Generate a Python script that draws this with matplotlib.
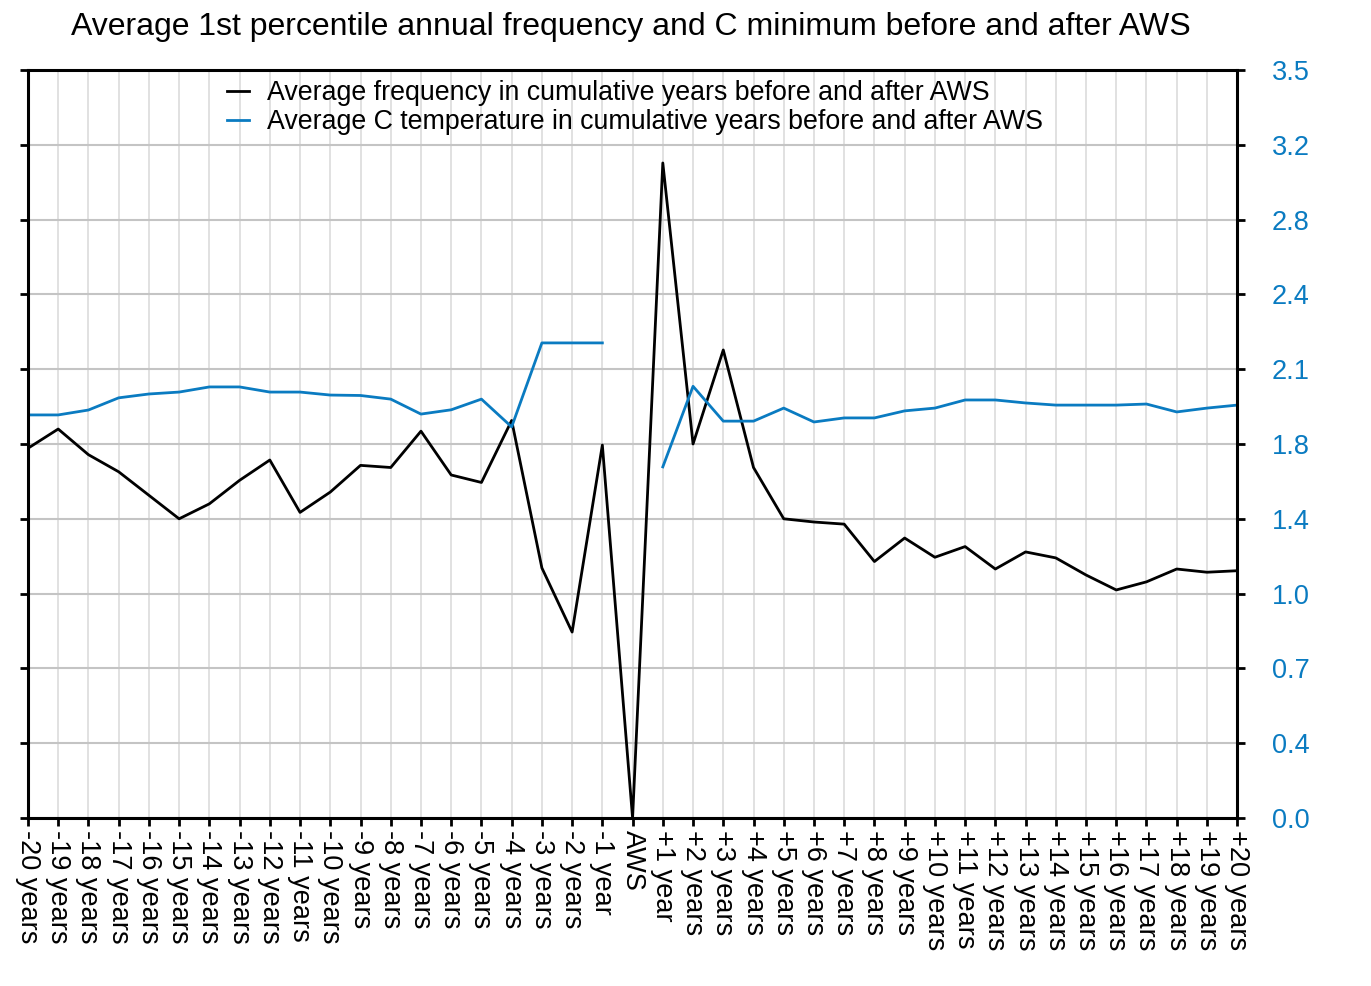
import numpy as np
import matplotlib
matplotlib.use('Agg')
import matplotlib.pyplot as plt

plt.rcParams['font.family'] = ['Liberation Sans', 'DejaVu Sans']

# categories: years relative to AWS
labels = ['-20 years', '-19 years', '-18 years', '-17 years', '-16 years', '-15 years',
          '-14 years', '-13 years', '-12 years', '-11 years', '-10 years', '-9 years',
          '-8 years', '-7 years', '-6 years', '-5 years', '-4 years', '-3 years',
          '-2 years', '-1 year', 'AWS', '+1 year', '+2 years', '+3 years', '+4 years',
          '+5 years', '+6 years', '+7 years', '+8 years', '+9 years', '+10 years',
          '+11 years', '+12 years', '+13 years', '+14 years', '+15 years', '+16 years',
          '+17 years', '+18 years', '+19 years', '+20 years']

# average frequency (black)
freq = [1.73, 1.82, 1.70, 1.62, 1.51, 1.40, 1.47, 1.58, 1.675, 1.43, 1.525, 1.65,
        1.64, 1.81, 1.605, 1.57, 1.86, 1.17, 0.87, 1.745, 0.0, 3.065, 1.75, 2.19,
        1.64, 1.40, 1.385, 1.375, 1.20, 1.31, 1.22, 1.27, 1.165, 1.245, 1.217,
        1.137, 1.067, 1.105, 1.165, 1.15, 1.157]

# average C temperature (blue), no value at AWS
temp = [1.886, 1.886, 1.909, 1.966, 1.984, 1.993, 2.017, 2.017, 1.993, 1.993, 1.979,
        1.977, 1.96, 1.89, 1.91, 1.96, 1.83, 2.223, 2.223, 2.223, np.nan, 1.643,
        2.02, 1.857, 1.857, 1.918, 1.853, 1.872, 1.872, 1.905, 1.918, 1.956, 1.956,
        1.942, 1.932, 1.932, 1.932, 1.937, 1.90, 1.918, 1.932]

yticks = [0.0, 0.35, 0.7, 1.05, 1.4, 1.75, 2.1, 2.45, 2.8, 3.15, 3.5]
ytick_labels = ['0.0', '0.4', '0.7', '1.0', '1.4', '1.8', '2.1', '2.4', '2.8', '3.2', '3.5']

blue = '#0a7bc1'
x = np.arange(len(labels))

fig = plt.figure(figsize=(13.71, 9.86), dpi=100)
ax = fig.add_axes([0.0204, 0.1704, 0.882, 0.7586])

ax.plot(x, freq, color='black', lw=2.0,
        label='Average frequency in cumulative years before and after AWS')
ax.plot(x, temp, color=blue, lw=2.0,
        label='Average C temperature in cumulative years before and after AWS')

ax.set_xlim(0, len(labels) - 1)
ax.set_ylim(0, 3.5)
ax.set_xticks(x)
ax.set_xticklabels(labels, rotation=270, fontsize=19.5)
ax.set_yticks(yticks)
ax.set_yticklabels(ytick_labels, fontsize=19.5, color=blue)

ax.tick_params(axis='y', left=True, right=True, labelleft=False, labelright=True,
               direction='out', length=6, width=2, pad=19)
ax.tick_params(axis='x', direction='out', length=6, width=2, pad=3)

# grid: light vertical lines, slightly darker horizontal ones
ax.grid(axis='x', color='#dcdcdc', lw=1.2)
ax.grid(axis='y', color='#c4c4c4', lw=1.5)
ax.set_axisbelow(True)

for s in ax.spines.values():
    s.set_linewidth(2.2)
    s.set_color('black')

ax.legend(loc='upper left', bbox_to_anchor=(0.165, 0.9866), frameon=False, fontsize=19.3,
          handlelength=0.82, handletextpad=0.67, labelspacing=0.12, borderpad=0,
          borderaxespad=0)

fig.suptitle('Average 1st percentile annual frequency and C minimum before and after AWS',
             x=0.460, y=0.988, fontsize=23)

fig.savefig('out.png', dpi=100)
